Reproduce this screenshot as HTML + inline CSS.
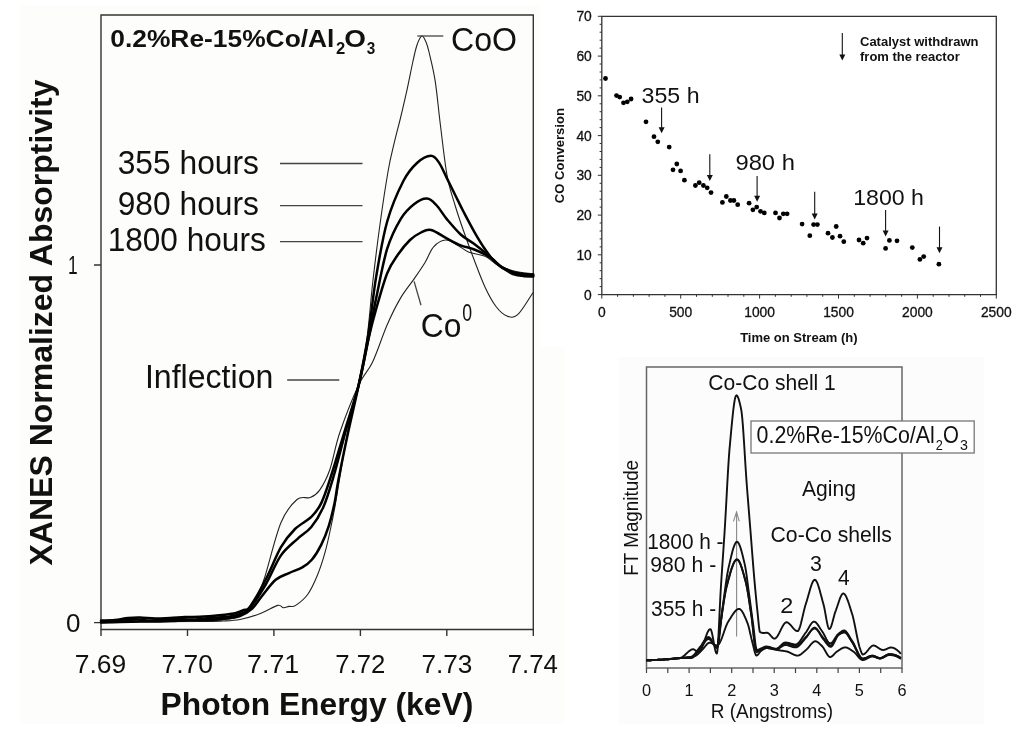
<!DOCTYPE html><html><head><meta charset="utf-8"><style>html,body{margin:0;padding:0;background:#fff;width:1024px;height:736px;overflow:hidden}svg{display:block;will-change:transform}text{font-family:"Liberation Sans",sans-serif}</style></head><body>
<svg width="1024" height="736" viewBox="0 0 1024 736">
<rect x="20" y="5" width="545" height="719" fill="#fdfdfb"/>
<rect x="540" y="0" width="484" height="347" fill="#fff"/>
<rect x="619" y="357" width="364.75" height="366.75" fill="#fcfcfc"/>
<g fill="none" stroke="#333" stroke-width="1.4">
<path d="M101,15 H533.3 V629.5 H101 Z"/>
<path d="M94,622.6 H101 M94,265 H101"/>
<path d="M101.0,629.5 V636"/>
<path d="M187.5,629.5 V636"/>
<path d="M273.9,629.5 V636"/>
<path d="M360.4,629.5 V636"/>
<path d="M446.8,629.5 V636"/>
<path d="M533.3,629.5 V636"/>
</g>
<g fill="none" stroke-linejoin="round" stroke-linecap="round">
<path d="M101.0,622.0 C117.5,621.8 179.3,621.4 200.0,621.0 C220.7,620.6 218.3,620.3 225.0,619.5 C231.7,618.7 235.8,617.8 240.0,616.0 C244.2,614.2 247.2,612.3 250.0,609.0 C252.8,605.7 254.6,601.2 257.0,596.0 C259.4,590.8 260.5,590.2 264.5,578.0 C268.5,565.8 275.4,536.1 280.8,523.0 C286.2,509.9 292.1,503.8 297.0,499.5 C301.9,495.2 306.6,499.0 310.3,497.5 C314.1,496.0 316.3,495.0 319.5,490.4 C322.7,485.8 326.3,479.7 329.7,470.0 C333.1,460.3 335.1,446.2 340.0,432.0 C344.9,417.8 353.4,396.5 358.8,384.8 C364.2,373.1 367.9,372.1 372.6,362.0 C377.4,351.9 382.6,335.2 387.3,324.5 C392.0,313.8 396.3,305.2 400.8,297.6 C405.3,290.0 410.2,284.5 414.3,278.6 C418.4,272.7 422.0,267.6 425.2,262.3 C428.4,257.0 430.2,250.5 433.6,246.8 C437.0,243.1 441.7,240.2 445.8,240.0 C449.9,239.8 454.1,243.4 458.0,245.4 C461.9,247.4 464.4,250.4 468.9,252.2 C473.4,254.0 480.2,254.0 485.2,256.3 C490.2,258.6 493.7,263.3 498.7,265.8 C503.7,268.3 509.4,269.9 515.0,271.2 C520.6,272.5 529.5,273.4 532.4,273.9" stroke="#222" stroke-width="1.1"/>
<path d="M101.0,622.0 C117.5,621.9 179.7,621.7 200.0,621.5 C220.3,621.3 216.3,621.3 223.0,621.0 C229.7,620.7 233.8,620.7 240.0,619.5 C246.2,618.3 254.1,616.0 260.4,613.6 C266.7,611.2 273.8,606.4 277.6,605.4 C281.4,604.4 281.4,607.5 283.3,607.7 C285.2,607.9 286.9,606.8 289.0,606.4 C291.1,606.0 292.5,607.5 295.7,605.4 C298.9,603.3 304.4,599.1 308.0,594.0 C311.6,588.9 314.6,582.0 317.5,575.0 C320.4,568.0 322.9,560.1 325.1,552.2 C327.3,544.3 329.1,535.7 330.8,527.5 C332.6,519.3 334.2,510.7 335.6,502.8 C337.0,494.9 337.2,493.0 339.4,480.0 C341.6,467.0 345.8,441.2 349.0,425.0 C352.2,408.8 355.7,397.2 358.7,383.0 C361.7,368.8 364.4,357.2 366.8,340.0 C369.2,322.8 370.7,299.8 373.0,280.0 C375.3,260.2 377.8,239.8 380.4,221.5 C382.9,203.2 386.0,183.2 388.3,170.0 C390.6,156.8 392.4,150.9 394.4,142.2 C396.4,133.5 398.4,126.5 400.5,118.0 C402.6,109.5 404.6,100.6 406.7,91.3 C408.8,82.0 411.1,69.7 412.8,62.0 C414.5,54.3 415.5,49.3 417.0,45.0 C418.5,40.7 420.4,36.5 421.9,36.0 C423.4,35.5 424.8,39.3 426.0,42.0 C427.2,44.7 427.5,45.5 429.0,52.0 C430.5,58.5 433.3,68.9 435.2,81.1 C437.1,93.3 438.4,109.2 440.4,125.0 C442.4,140.8 444.7,162.7 447.2,176.2 C449.7,189.7 452.6,196.9 455.3,206.0 C458.0,215.1 460.2,221.4 463.4,230.5 C466.6,239.6 470.7,250.8 474.3,260.3 C477.9,269.8 481.6,279.8 485.2,287.5 C488.8,295.2 492.4,301.8 496.0,306.5 C499.6,311.2 503.3,314.6 506.9,316.0 C510.5,317.4 513.4,318.4 517.7,314.6 C522.0,310.8 530.2,296.6 532.7,293.0" stroke="#222" stroke-width="1.1"/>
<path d="M101.0,620.5 C103.3,620.4 110.5,620.4 115.0,620.0 C119.5,619.6 123.8,618.4 128.0,618.0 C132.2,617.6 135.5,617.4 140.0,617.5 C144.5,617.6 150.0,618.4 155.0,618.5 C160.0,618.6 165.0,618.2 170.0,618.0 C175.0,617.8 180.0,617.2 185.0,617.0 C190.0,616.8 195.5,617.0 200.0,616.8 C204.5,616.6 207.8,616.3 212.0,616.0 C216.2,615.7 221.0,615.3 225.0,614.8 C229.0,614.3 232.8,613.8 236.0,613.0 C239.2,612.2 241.6,611.1 244.0,610.0 C246.4,608.9 246.4,611.8 250.2,606.5 C253.9,601.2 261.4,587.9 266.5,578.0 C271.6,568.1 276.1,555.6 280.8,547.4 C285.6,539.2 289.9,534.1 295.0,529.0 C300.1,523.9 306.9,521.3 311.3,516.9 C315.7,512.5 318.1,509.8 321.5,502.6 C324.9,495.5 327.8,486.1 331.7,474.0 C335.6,461.9 340.5,444.8 345.0,430.0 C349.5,415.2 354.8,400.0 358.7,385.0 C362.6,370.0 365.3,352.8 368.2,340.0 C371.1,327.2 373.1,319.6 376.3,308.5 C379.5,297.4 383.6,282.2 387.2,273.2 C390.8,264.2 394.2,260.0 398.0,254.5 C401.8,249.0 406.2,243.7 410.0,240.0 C413.8,236.3 417.5,234.2 421.0,232.5 C424.5,230.8 426.6,229.0 431.0,230.0 C435.4,231.0 442.2,236.0 447.2,238.6 C452.1,241.2 456.2,243.6 460.7,245.4 C465.2,247.2 469.3,247.5 474.3,249.5 C479.3,251.5 486.1,254.7 490.6,257.6 C495.1,260.5 497.8,264.4 501.5,267.1 C505.2,269.8 509.3,272.5 513.0,274.0 C516.7,275.5 520.2,275.8 523.6,276.0 C527.0,276.2 531.7,275.6 533.3,275.5" stroke="#000" stroke-width="2.5"/>
<path d="M101.0,622.0 C102.8,621.9 108.0,621.8 112.0,621.5 C116.0,621.2 120.7,620.3 125.0,620.0 C129.3,619.7 133.8,619.4 138.0,619.5 C142.2,619.6 145.5,620.5 150.0,620.5 C154.5,620.5 160.3,620.0 165.0,619.8 C169.7,619.5 173.5,619.0 178.0,619.0 C182.5,619.0 187.5,619.6 192.0,619.5 C196.5,619.4 200.7,618.8 205.0,618.5 C209.3,618.2 213.8,617.8 218.0,617.5 C222.2,617.2 226.0,617.2 230.0,616.5 C234.0,615.8 238.7,614.9 242.0,613.5 C245.3,612.1 246.0,612.9 250.0,608.0 C254.0,603.1 260.9,592.7 266.0,584.0 C271.1,575.3 275.6,563.1 280.8,555.6 C286.0,548.1 291.9,544.1 297.0,539.3 C302.1,534.5 306.9,532.4 311.3,527.0 C315.7,521.6 319.8,515.2 323.5,506.7 C327.2,498.2 329.9,488.8 333.7,476.0 C337.4,463.2 341.8,445.2 346.0,430.0 C350.2,414.8 355.0,400.0 358.7,385.0 C362.4,370.0 365.3,354.6 368.2,340.0 C371.1,325.4 373.1,312.8 376.3,297.6 C379.5,282.4 383.1,261.8 387.2,248.7 C391.3,235.6 396.3,226.3 400.8,218.8 C405.3,211.3 409.9,207.3 414.3,203.9 C418.7,200.5 423.3,198.3 427.0,198.5 C430.7,198.7 432.9,201.5 436.3,205.0 C439.7,208.5 443.1,214.7 447.2,219.6 C451.3,224.5 456.2,230.4 460.7,234.5 C465.2,238.6 469.8,240.6 474.3,244.0 C478.8,247.4 483.4,251.1 487.9,254.9 C492.4,258.8 497.0,264.1 501.5,267.1 C506.0,270.1 511.2,271.5 515.0,273.0 C518.8,274.5 521.0,275.4 524.0,276.0 C527.0,276.6 531.8,276.4 533.3,276.5" stroke="#000" stroke-width="2.5"/>
<path d="M101.0,622.5 C104.2,622.4 113.5,622.2 120.0,622.0 C126.5,621.8 133.3,621.6 140.0,621.5 C146.7,621.4 154.2,621.6 160.0,621.5 C165.8,621.4 170.0,621.2 175.0,621.0 C180.0,620.8 185.0,620.1 190.0,620.0 C195.0,619.9 199.7,620.5 205.0,620.3 C210.3,620.1 216.2,619.7 222.0,619.0 C227.8,618.3 235.0,617.8 240.0,616.0 C245.0,614.2 248.5,611.8 252.2,608.5 C255.9,605.2 258.1,600.8 262.0,596.0 C265.9,591.2 271.2,583.6 275.7,579.8 C280.2,576.0 284.6,575.2 289.0,573.1 C293.4,571.0 298.5,569.6 302.3,567.4 C306.1,565.2 308.6,563.6 311.8,559.8 C315.0,556.0 318.5,550.3 321.3,544.6 C324.1,538.9 326.7,532.6 328.9,525.6 C331.1,518.6 333.0,510.4 334.6,502.8 C336.2,495.2 336.2,491.6 338.4,480.0 C340.6,468.4 344.6,448.8 348.0,433.0 C351.4,417.2 355.3,401.3 358.7,385.0 C362.1,368.7 365.3,353.2 368.2,335.0 C371.1,316.8 373.1,294.8 376.3,275.9 C379.5,257.0 382.7,237.3 387.2,221.5 C391.7,205.7 398.5,190.6 403.5,180.8 C408.5,171.1 412.4,167.2 417.0,163.0 C421.6,158.8 427.2,155.9 430.9,155.8 C434.6,155.7 436.3,158.8 439.0,162.6 C441.7,166.4 444.5,173.5 447.2,178.9 C449.9,184.3 452.6,189.8 455.3,195.2 C458.0,200.6 460.2,205.4 463.4,211.5 C466.6,217.6 470.7,225.5 474.3,231.8 C477.9,238.1 481.6,244.3 485.2,249.5 C488.8,254.7 491.9,259.4 496.0,263.0 C500.1,266.6 505.1,269.4 509.6,271.2 C514.1,273.0 519.2,273.3 523.2,273.9 C527.2,274.4 531.6,274.4 533.3,274.5" stroke="#000" stroke-width="2.5"/>
</g>
<g stroke="#444" stroke-width="1.3" fill="none">
<path d="M417.3,36 H443.3"/>
<path d="M280,163.5 H362.5 M280,205.6 H362.5 M280,241.7 H362.5"/>
<path d="M287.2,380 H339.3"/>
<path d="M414.1,281.4 L421,305.3"/>
</g>
<text transform="translate(110.30,47.1) scale(1.0765,1.0)" font-size="24.5" font-weight="bold" fill="#111">0.2%Re-15%Co/Al</text>
<text transform="translate(335.90,54.4) scale(0.9778,1.0)" font-size="17" font-weight="bold" fill="#111">2</text>
<text transform="translate(344.36,47.1) scale(1.1389,1.0)" font-size="24.5" font-weight="bold" fill="#111">O</text>
<text transform="translate(366.70,54.4) scale(0.9000,1.0)" font-size="17" font-weight="bold" fill="#111">3</text>
<text transform="translate(451.02,51.2) scale(0.9781,1.0)" font-size="32.8" font-weight="normal" fill="#111">CoO</text>
<text transform="translate(117.63,173.5) scale(0.9690,1.0)" font-size="32.8" font-weight="normal" fill="#111">355 hours</text>
<text transform="translate(117.63,215.3) scale(0.9690,1.0)" font-size="32.8" font-weight="normal" fill="#111">980 hours</text>
<text transform="translate(107.67,250.8) scale(0.9634,1.0)" font-size="32.8" font-weight="normal" fill="#111">1800 hours</text>
<text transform="translate(144.91,387.9) scale(0.9936,1.0)" font-size="32.3" font-weight="normal" fill="#111">Inflection</text>
<text transform="translate(420.72,336.8) scale(0.9779,1.0)" font-size="32.5" font-weight="normal" fill="#111">Co</text>
<text transform="translate(462.20,321.1) scale(0.7538,1.0)" font-size="23.5" font-weight="normal" fill="#111">0</text>
<text transform="translate(66.00,632) scale(1.0000,1.0)" font-size="26" font-weight="normal" fill="#111">0</text>
<text transform="translate(68.03,274) scale(0.6692,1.0)" font-size="26" font-weight="normal" fill="#111">1</text>
<text transform="translate(74.78,672.8) scale(1.0174,1.0)" font-size="26" font-weight="normal" fill="#111">7.69</text>
<text transform="translate(161.44,672.8) scale(1.0174,1.0)" font-size="26" font-weight="normal" fill="#111">7.70</text>
<text transform="translate(247.07,672.8) scale(1.0296,1.0)" font-size="26" font-weight="normal" fill="#111">7.71</text>
<text transform="translate(335.21,672.8) scale(0.9910,1.0)" font-size="26" font-weight="normal" fill="#111">7.72</text>
<text transform="translate(421.39,672.8) scale(1.0073,1.0)" font-size="26" font-weight="normal" fill="#111">7.73</text>
<text transform="translate(507.71,672.8) scale(0.9930,1.0)" font-size="26" font-weight="normal" fill="#111">7.74</text>
<text transform="translate(51.5,565.50) rotate(-90) scale(1.0002,1)" font-size="32" font-weight="bold" fill="#111">XANES Normalized Absorptivity</text>
<text transform="translate(160.61,714.8) scale(0.9938,1.0)" font-size="32" font-weight="bold" fill="#111">Photon Energy (keV)</text>
<g fill="none" stroke="#333" stroke-width="1.3">
<path d="M601.8,16.3 H996.3 V294.6 H601.8 Z"/>
<path d="M597.8,294.6H601.8M599.6,286.6H601.8M599.6,278.7H601.8M599.6,270.7H601.8M599.6,262.8H601.8M597.8,254.8H601.8M599.6,246.9H601.8M599.6,238.9H601.8M599.6,231.0H601.8M599.6,223.0H601.8M597.8,215.1H601.8M599.6,207.1H601.8M599.6,199.2H601.8M599.6,191.2H601.8M599.6,183.3H601.8M597.8,175.3H601.8M599.6,167.4H601.8M599.6,159.4H601.8M599.6,151.5H601.8M599.6,143.5H601.8M597.8,135.6H601.8M599.6,127.6H601.8M599.6,119.7H601.8M599.6,111.7H601.8M599.6,103.8H601.8M597.8,95.8H601.8M599.6,87.9H601.8M599.6,79.9H601.8M599.6,72.0H601.8M599.6,64.0H601.8M597.8,56.1H601.8M599.6,48.1H601.8M599.6,40.2H601.8M599.6,32.2H601.8M599.6,24.3H601.8M597.8,16.3H601.8" stroke-width="1"/>
<path d="M601.8,294.6V298.6M617.6,294.6V296.8M633.4,294.6V296.8M649.1,294.6V296.8M664.9,294.6V296.8M680.7,294.6V298.6M696.5,294.6V296.8M712.3,294.6V296.8M728.0,294.6V296.8M743.8,294.6V296.8M759.6,294.6V298.6M775.4,294.6V296.8M791.2,294.6V296.8M806.9,294.6V296.8M822.7,294.6V296.8M838.5,294.6V298.6M854.3,294.6V296.8M870.1,294.6V296.8M885.8,294.6V296.8M901.6,294.6V296.8M917.4,294.6V298.6M933.2,294.6V296.8M949.0,294.6V296.8M964.7,294.6V296.8M980.5,294.6V296.8M996.3,294.6V298.6" stroke-width="1"/>
</g>
<g fill="#000">
<circle cx="605.5" cy="78.5" r="2.4"/>
<circle cx="616.5" cy="95.6" r="2.4"/>
<circle cx="619.7" cy="97.1" r="2.4"/>
<circle cx="623.5" cy="102.8" r="2.4"/>
<circle cx="627.3" cy="101.8" r="2.4"/>
<circle cx="631.1" cy="99" r="2.4"/>
<circle cx="646" cy="121.8" r="2.4"/>
<circle cx="654" cy="136.7" r="2.4"/>
<circle cx="657.8" cy="141.8" r="2.4"/>
<circle cx="669.2" cy="147.1" r="2.4"/>
<circle cx="676.8" cy="164" r="2.4"/>
<circle cx="673" cy="169.8" r="2.4"/>
<circle cx="680.6" cy="170.9" r="2.4"/>
<circle cx="684.4" cy="180.2" r="2.4"/>
<circle cx="695.4" cy="185.5" r="2.4"/>
<circle cx="699.2" cy="182.7" r="2.4"/>
<circle cx="703.4" cy="185.5" r="2.4"/>
<circle cx="707.2" cy="187.8" r="2.4"/>
<circle cx="711" cy="192.6" r="2.4"/>
<circle cx="726.3" cy="196.5" r="2.4"/>
<circle cx="722.4" cy="202.4" r="2.4"/>
<circle cx="730.4" cy="200.5" r="2.4"/>
<circle cx="733.9" cy="200.5" r="2.4"/>
<circle cx="737.7" cy="204.7" r="2.4"/>
<circle cx="749.1" cy="203.2" r="2.4"/>
<circle cx="756.7" cy="207.1" r="2.4"/>
<circle cx="752.9" cy="209.8" r="2.4"/>
<circle cx="760.5" cy="211.3" r="2.4"/>
<circle cx="764.3" cy="212.9" r="2.4"/>
<circle cx="775.5" cy="212.9" r="2.4"/>
<circle cx="779.5" cy="218" r="2.4"/>
<circle cx="783.3" cy="213.8" r="2.4"/>
<circle cx="787.1" cy="213.8" r="2.4"/>
<circle cx="802.1" cy="224.1" r="2.4"/>
<circle cx="809.8" cy="235.7" r="2.4"/>
<circle cx="813.6" cy="224.6" r="2.4"/>
<circle cx="817.4" cy="224.6" r="2.4"/>
<circle cx="828" cy="233.2" r="2.4"/>
<circle cx="832.4" cy="237.5" r="2.4"/>
<circle cx="836.2" cy="226.5" r="2.4"/>
<circle cx="840" cy="236.2" r="2.4"/>
<circle cx="843.8" cy="241.7" r="2.4"/>
<circle cx="859" cy="240" r="2.4"/>
<circle cx="863.2" cy="243.2" r="2.4"/>
<circle cx="867" cy="238.1" r="2.4"/>
<circle cx="885.6" cy="248.4" r="2.4"/>
<circle cx="889.4" cy="240.4" r="2.4"/>
<circle cx="897" cy="240.8" r="2.4"/>
<circle cx="912.3" cy="247.6" r="2.4"/>
<circle cx="919.9" cy="259.4" r="2.4"/>
<circle cx="923.7" cy="256.6" r="2.4"/>
<circle cx="938.9" cy="264.2" r="2.4"/>
</g>
<g stroke="#111" stroke-width="1.1" fill="#111">
<path d="M661.6,107.6 V129.2" fill="none"/>
<path d="M658.6,127.19999999999999 L664.6,127.19999999999999 L661.6,133.2 Z" stroke="none"/>
<path d="M709.8,154.3 V177" fill="none"/>
<path d="M706.8,175 L712.8,175 L709.8,181 Z" stroke="none"/>
<path d="M757.1,176.1 V197.8" fill="none"/>
<path d="M754.1,195.8 L760.1,195.8 L757.1,201.8 Z" stroke="none"/>
<path d="M814.7,191.7 V215.5" fill="none"/>
<path d="M811.7,213.5 L817.7,213.5 L814.7,219.5 Z" stroke="none"/>
<path d="M885.6,209.9 V232.6" fill="none"/>
<path d="M882.6,230.6 L888.6,230.6 L885.6,236.6 Z" stroke="none"/>
<path d="M939.5,226.5 V249.3" fill="none"/>
<path d="M936.5,247.3 L942.5,247.3 L939.5,253.3 Z" stroke="none"/>
<path d="M842.3,33 V56.6" fill="none"/>
<path d="M839.3,54.6 L845.3,54.6 L842.3,60.6 Z" stroke="none"/>
</g>
<g fill="#111" font-size="13">
<text x="591.8" y="299.5" text-anchor="end" font-size="13.8" stroke="#111" stroke-width="0.3">0</text>
<text x="591.8" y="259.7" text-anchor="end" font-size="13.8" stroke="#111" stroke-width="0.3">10</text>
<text x="591.8" y="220.0" text-anchor="end" font-size="13.8" stroke="#111" stroke-width="0.3">20</text>
<text x="591.8" y="180.2" text-anchor="end" font-size="13.8" stroke="#111" stroke-width="0.3">30</text>
<text x="591.8" y="140.5" text-anchor="end" font-size="13.8" stroke="#111" stroke-width="0.3">40</text>
<text x="591.8" y="100.7" text-anchor="end" font-size="13.8" stroke="#111" stroke-width="0.3">50</text>
<text x="591.8" y="61.0" text-anchor="end" font-size="13.8" stroke="#111" stroke-width="0.3">60</text>
<text x="591.8" y="21.2" text-anchor="end" font-size="13.8" stroke="#111" stroke-width="0.3">70</text>
<text x="601.8" y="317.2" text-anchor="middle" font-size="13.8" stroke="#111" stroke-width="0.3">0</text>
<text x="680.7" y="317.2" text-anchor="middle" font-size="13.8" stroke="#111" stroke-width="0.3">500</text>
<text x="759.6" y="317.2" text-anchor="middle" font-size="13.8" stroke="#111" stroke-width="0.3">1000</text>
<text x="838.5" y="317.2" text-anchor="middle" font-size="13.8" stroke="#111" stroke-width="0.3">1500</text>
<text x="917.4" y="317.2" text-anchor="middle" font-size="13.8" stroke="#111" stroke-width="0.3">2000</text>
<text x="996.3" y="317.2" text-anchor="middle" font-size="13.8" stroke="#111" stroke-width="0.3">2500</text>
</g>
<text transform="translate(564.4,203.30) rotate(-90) scale(0.9849,1)" font-size="13.3" font-weight="bold" fill="#111">CO Conversion</text>
<g fill="#111" font-size="13">
<text x="798.9" y="342" font-weight="bold" text-anchor="middle">Time on Stream (h)</text>
<text x="860" y="46" font-weight="bold">Catalyst withdrawn</text>
<text x="860" y="61.1" font-weight="bold">from the reactor</text>
</g>
<text transform="translate(641.60,103.4) scale(1.0535,1.0)" font-size="22" font-weight="normal" fill="#111">355 h</text>
<text transform="translate(735.42,170.4) scale(1.0811,1.0)" font-size="22" font-weight="normal" fill="#111">980 h</text>
<text transform="translate(853.15,205.2) scale(1.0530,1.0)" font-size="22" font-weight="normal" fill="#111">1800 h</text>
<g fill="none" stroke="#666" stroke-width="1.5">
<path d="M646.5,367 H902 V668 H646.5 Z"/>
<path d="M646.5,668V673M667.8,668V673M689.1,668V673M710.4,668V673M731.7,668V673M753.0,668V673M774.2,668V673M795.5,668V673M816.8,668V673M838.1,668V673M859.4,668V673M880.7,668V673M902.0,668V673" stroke="#444" stroke-width="1.2"/>
</g>
<g stroke="#888" stroke-width="1.1" fill="none"><path d="M736.6,636.4 V512"/><path d="M733.5,521.3 L736.5,512 L739.3,521.3"/></g>
<g fill="none" stroke="#111" stroke-width="1.9" stroke-linejoin="round">
<path d="M646.4,660.3 L646.9,660.3 647.4,660.3 647.9,660.3 648.4,660.3 648.9,660.2 649.4,660.2 649.9,660.2 650.4,660.2 650.9,660.2 651.4,660.2 651.9,660.1 652.4,660.1 652.9,660.1 653.4,660.1 653.9,660.1 654.4,660.0 654.9,660.0 655.4,660.0 655.9,660.0 656.4,659.9 656.9,659.9 657.4,659.9 657.9,659.9 658.4,659.8 658.9,659.8 659.4,659.8 659.9,659.7 660.4,659.7 660.9,659.7 661.4,659.7 661.9,659.6 662.4,659.6 662.9,659.6 663.4,659.5 663.9,659.5 664.4,659.5 664.9,659.4 665.4,659.4 665.9,659.4 666.4,659.4 666.9,659.3 667.4,659.3 667.9,659.3 668.4,659.2 668.9,659.2 669.4,659.2 669.9,659.1 670.4,659.1 670.9,659.1 671.4,659.0 671.9,659.0 672.4,658.9 672.9,658.9 673.4,658.8 673.9,658.8 674.4,658.7 674.9,658.7 675.4,658.6 675.9,658.6 676.4,658.5 676.9,658.5 677.4,658.4 677.9,658.3 678.4,658.3 678.9,658.2 679.4,658.1 679.9,658.0 680.4,657.9 680.9,657.8 681.4,657.5 681.9,657.3 682.4,657.0 682.9,656.6 683.4,656.3 683.9,655.8 684.4,655.4 684.9,655.0 685.4,654.5 685.9,654.0 686.4,653.6 686.9,653.1 687.4,652.6 687.9,652.2 688.4,651.7 688.9,651.3 689.4,650.9 689.9,650.6 690.4,650.2 690.9,649.9 691.4,649.7 691.9,649.5 692.4,649.4 692.9,649.3 693.4,649.3 693.9,649.4 694.4,649.7 694.9,650.0 695.4,650.4 695.9,650.8 696.4,651.2 696.9,651.5 697.4,651.9 697.9,652.1 698.4,652.3 698.9,652.3 699.4,652.1 699.9,651.6 700.4,651.0 700.9,650.1 701.4,649.1 701.9,648.0 702.4,646.7 702.9,645.4 703.4,644.0 703.9,642.5 704.4,641.0 704.9,639.5 705.4,638.0 705.9,636.6 706.4,635.2 706.9,633.9 707.4,632.7 707.9,631.7 708.4,630.8 708.9,630.0 709.4,629.5 709.9,629.2 710.4,629.1 710.9,629.7 711.4,631.0 711.9,632.8 712.4,635.1 712.9,637.7 713.4,640.5 713.9,643.3 714.4,646.0 714.9,648.5 715.4,650.7 715.9,652.3 716.4,653.3 716.9,653.5 717.4,650.9 717.9,645.2 718.4,637.0 718.9,627.3 719.4,616.6 719.9,605.9 720.4,595.7 720.9,587.0 721.4,579.3 721.9,571.8 722.4,564.4 722.9,557.1 723.4,549.7 723.9,542.3 724.4,534.7 724.9,526.8 725.4,518.3 725.9,509.4 726.4,500.2 726.9,490.9 727.4,481.7 727.9,472.9 728.4,464.6 728.9,457.1 729.4,450.4 729.9,444.8 730.4,439.4 730.9,433.9 731.4,428.5 731.9,423.3 732.4,418.3 732.9,413.5 733.4,409.2 733.9,405.3 734.4,401.9 734.9,399.1 735.4,397.0 735.9,395.8 736.4,395.3 736.9,395.5 737.4,396.1 737.9,397.1 738.4,398.3 738.9,399.9 739.4,401.7 739.9,403.7 740.4,405.8 740.9,408.1 741.4,410.7 741.9,414.6 742.4,419.7 742.9,425.9 743.4,432.8 743.9,440.4 744.4,448.3 744.9,456.4 745.4,464.5 745.9,472.3 746.4,479.6 746.9,486.3 747.4,492.7 747.9,498.9 748.4,505.2 748.9,511.4 749.4,517.6 749.9,523.8 750.4,530.0 750.9,536.3 751.4,542.7 751.9,549.2 752.4,555.6 752.9,561.9 753.4,568.1 753.9,574.0 754.4,579.8 754.9,585.4 755.4,590.9 755.9,596.2 756.4,601.4 756.9,606.4 757.4,611.1 757.9,615.9 758.4,621.1 758.9,626.0 759.4,629.9 759.9,631.9 760.4,632.2 760.9,632.5 761.4,632.6 761.9,632.8 762.4,632.9 762.9,633.0 763.4,633.0 763.9,633.0 764.4,633.0 764.9,632.9 765.4,632.9 765.9,632.8 766.4,632.8 766.9,632.8 767.4,632.8 767.9,633.0 768.4,633.3 768.9,633.7 769.4,634.2 769.9,634.7 770.4,635.3 770.9,635.9 771.4,636.4 771.9,637.0 772.4,637.5 772.9,637.9 773.4,638.3 773.9,638.5 774.4,638.6 774.9,638.5 775.4,638.3 775.9,638.0 776.4,637.5 776.9,636.9 777.4,636.2 777.9,635.4 778.4,634.6 778.9,633.6 779.4,632.7 779.9,631.7 780.4,630.7 780.9,629.6 781.4,628.6 781.9,627.6 782.4,626.7 782.9,625.8 783.4,625.0 783.9,624.3 784.4,623.6 784.9,623.1 785.4,622.7 785.9,622.4 786.4,622.3 786.9,622.3 787.4,622.5 787.9,622.7 788.4,623.0 788.9,623.4 789.4,623.8 789.9,624.3 790.4,624.8 790.9,625.4 791.4,626.0 791.9,626.6 792.4,627.2 792.9,627.8 793.4,628.3 793.9,628.9 794.4,629.4 794.9,629.9 795.4,630.3 795.9,630.6 796.4,630.9 796.9,631.0 797.4,631.1 797.9,631.0 798.4,630.5 798.9,629.6 799.4,628.5 799.9,627.1 800.4,625.4 800.9,623.6 801.4,621.6 801.9,619.6 802.4,617.4 802.9,615.2 803.4,613.1 803.9,610.9 804.4,608.9 804.9,607.0 805.4,605.3 805.9,603.7 806.4,602.1 806.9,600.5 807.4,598.8 807.9,597.0 808.4,595.2 808.9,593.4 809.4,591.7 809.9,589.9 810.4,588.3 810.9,586.7 811.4,585.2 811.9,583.8 812.4,582.7 812.9,581.6 813.4,580.8 813.9,580.2 814.4,579.9 814.9,579.8 815.4,580.0 815.9,580.5 816.4,581.2 816.9,582.1 817.4,583.2 817.9,584.5 818.4,586.0 818.9,587.6 819.4,589.2 819.9,591.0 820.4,592.9 820.9,594.7 821.4,596.6 821.9,598.5 822.4,600.4 822.9,602.2 823.4,604.0 823.9,605.9 824.4,608.3 824.9,610.9 825.4,613.7 825.9,616.5 826.4,619.3 826.9,621.9 827.4,624.3 827.9,626.3 828.4,627.8 828.9,628.8 829.4,629.0 829.9,628.7 830.4,628.0 830.9,626.9 831.4,625.6 831.9,624.0 832.4,622.3 832.9,620.4 833.4,618.6 833.9,616.7 834.4,614.8 834.9,613.1 835.4,611.6 835.9,610.3 836.4,608.9 836.9,607.5 837.4,606.0 837.9,604.5 838.4,603.0 838.9,601.5 839.4,600.0 839.9,598.7 840.4,597.4 840.9,596.3 841.4,595.3 841.9,594.5 842.4,593.9 842.9,593.6 843.4,593.5 843.9,593.7 844.4,594.0 844.9,594.6 845.4,595.3 845.9,596.1 846.4,597.2 846.9,598.3 847.4,599.6 847.9,600.9 848.4,602.3 848.9,603.8 849.4,605.3 849.9,606.9 850.4,608.5 850.9,610.1 851.4,611.7 851.9,613.2 852.4,614.8 852.9,616.6 853.4,618.7 853.9,620.9 854.4,623.2 854.9,625.7 855.4,628.2 855.9,630.7 856.4,633.3 856.9,635.8 857.4,638.2 857.9,640.6 858.4,642.8 858.9,644.8 859.4,646.7 859.9,648.2 860.4,649.6 860.9,651.1 861.4,652.4 861.9,653.6 862.4,654.3 862.9,654.5 863.4,654.4 863.9,654.2 864.4,653.9 864.9,653.6 865.4,653.1 865.9,652.6 866.4,652.1 866.9,651.5 867.4,650.9 867.9,650.3 868.4,649.6 868.9,649.0 869.4,648.4 869.9,647.8 870.4,647.3 870.9,646.8 871.4,646.3 871.9,646.0 872.4,645.7 872.9,645.6 873.4,645.5 873.9,645.5 874.4,645.6 874.9,645.8 875.4,646.0 875.9,646.3 876.4,646.5 876.9,646.9 877.4,647.2 877.9,647.5 878.4,647.9 878.9,648.2 879.4,648.6 879.9,648.9 880.4,649.2 880.9,649.4 881.4,649.7 881.9,649.8 882.4,649.9 882.9,650.0 883.4,650.0 883.9,649.9 884.4,649.8 884.9,649.6 885.4,649.5 885.9,649.3 886.4,649.0 886.9,648.8 887.4,648.6 887.9,648.3 888.4,648.1 888.9,647.9 889.4,647.8 889.9,647.6 890.4,647.5 890.9,647.5 891.4,647.5 891.9,647.6 892.4,647.6 892.9,647.8 893.4,647.9 893.9,648.1 894.4,648.3 894.9,648.6 895.4,648.9 895.9,649.2 896.4,649.6 896.9,649.9 897.4,650.3 897.9,650.8 898.4,651.2 898.9,651.7 899.4,652.2 899.9,652.7 900.4,653.3 900.9,653.9"/>
<path d="M646.4,660.3 L646.9,660.3 647.4,660.3 647.9,660.3 648.4,660.2 648.9,660.2 649.4,660.2 649.9,660.2 650.4,660.2 650.9,660.2 651.4,660.1 651.9,660.1 652.4,660.1 652.9,660.1 653.4,660.1 653.9,660.0 654.4,660.0 654.9,660.0 655.4,660.0 655.9,659.9 656.4,659.9 656.9,659.9 657.4,659.9 657.9,659.8 658.4,659.8 658.9,659.8 659.4,659.8 659.9,659.7 660.4,659.7 660.9,659.7 661.4,659.7 661.9,659.6 662.4,659.6 662.9,659.6 663.4,659.5 663.9,659.5 664.4,659.5 664.9,659.4 665.4,659.4 665.9,659.4 666.4,659.3 666.9,659.3 667.4,659.3 667.9,659.2 668.4,659.2 668.9,659.1 669.4,659.1 669.9,659.1 670.4,659.0 670.9,659.0 671.4,658.9 671.9,658.9 672.4,658.8 672.9,658.8 673.4,658.7 673.9,658.7 674.4,658.6 674.9,658.6 675.4,658.5 675.9,658.5 676.4,658.4 676.9,658.4 677.4,658.3 677.9,658.3 678.4,658.3 678.9,658.2 679.4,658.2 679.9,658.1 680.4,658.1 680.9,658.0 681.4,658.0 681.9,657.9 682.4,657.9 682.9,657.8 683.4,657.8 683.9,657.8 684.4,657.7 684.9,657.7 685.4,657.7 685.9,657.6 686.4,657.6 686.9,657.5 687.4,657.5 687.9,657.4 688.4,657.4 688.9,657.3 689.4,657.3 689.9,657.2 690.4,657.1 690.9,657.0 691.4,656.9 691.9,656.7 692.4,656.4 692.9,656.0 693.4,655.5 693.9,655.0 694.4,654.5 694.9,653.9 695.4,653.2 695.9,652.5 696.4,651.8 696.9,651.1 697.4,650.4 697.9,649.7 698.4,649.0 698.9,648.4 699.4,647.7 699.9,647.1 700.4,646.5 700.9,645.9 701.4,645.2 701.9,644.4 702.4,643.6 702.9,642.9 703.4,642.1 703.9,641.3 704.4,640.6 704.9,639.9 705.4,639.2 705.9,638.6 706.4,638.1 706.9,637.7 707.4,637.3 707.9,637.1 708.4,637.0 708.9,637.1 709.4,637.3 709.9,637.8 710.4,638.4 710.9,639.1 711.4,640.0 711.9,640.9 712.4,641.8 712.9,642.8 713.4,643.8 713.9,644.7 714.4,645.5 714.9,646.3 715.4,647.0 715.9,647.5 716.4,647.8 716.9,648.0 717.4,647.6 717.9,646.1 718.4,643.6 718.9,640.3 719.4,636.4 719.9,632.0 720.4,627.3 720.9,622.5 721.4,617.8 721.9,613.2 722.4,609.0 722.9,605.3 723.4,601.7 723.9,598.1 724.4,594.3 724.9,590.6 725.4,586.9 725.9,583.4 726.4,579.9 726.9,576.6 727.4,573.6 727.9,570.9 728.4,568.4 728.9,566.3 729.4,564.1 729.9,561.9 730.4,559.7 730.9,557.6 731.4,555.5 731.9,553.5 732.4,551.6 732.9,549.8 733.4,548.1 733.9,546.6 734.4,545.3 734.9,544.1 735.4,543.2 735.9,542.5 736.4,542.0 736.9,541.8 737.4,541.9 737.9,542.3 738.4,542.9 738.9,543.7 739.4,544.8 739.9,546.1 740.4,547.5 740.9,549.1 741.4,550.8 741.9,552.7 742.4,554.6 742.9,556.6 743.4,558.7 743.9,560.8 744.4,562.9 744.9,565.1 745.4,567.6 745.9,570.6 746.4,573.9 746.9,577.5 747.4,581.3 747.9,585.1 748.4,589.0 748.9,592.8 749.4,596.5 749.9,600.2 750.4,603.9 750.9,607.7 751.4,611.5 751.9,615.4 752.4,619.1 752.9,622.8 753.4,626.5 753.9,630.7 754.4,635.2 754.9,639.7 755.4,643.8 755.9,647.3 756.4,649.8 756.9,651.0 757.4,650.9 757.9,650.8 758.4,650.4 758.9,650.1 759.4,649.6 759.9,649.2 760.4,648.9 760.9,648.5 761.4,648.3 761.9,648.1 762.4,647.8 762.9,647.6 763.4,647.3 763.9,647.1 764.4,646.9 764.9,646.8 765.4,646.6 765.9,646.5 766.4,646.5 766.9,646.5 767.4,646.6 767.9,646.6 768.4,646.7 768.9,646.9 769.4,647.0 769.9,647.2 770.4,647.3 770.9,647.5 771.4,647.7 771.9,647.9 772.4,648.1 772.9,648.2 773.4,648.4 773.9,648.5 774.4,648.6 774.9,648.7 775.4,648.8 775.9,648.8 776.4,648.8 776.9,648.6 777.4,648.4 777.9,648.1 778.4,647.8 778.9,647.4 779.4,646.9 779.9,646.4 780.4,646.0 780.9,645.4 781.4,645.0 781.9,644.5 782.4,644.0 782.9,643.6 783.4,643.2 783.9,642.9 784.4,642.7 784.9,642.6 785.4,642.5 785.9,642.5 786.4,642.6 786.9,642.6 787.4,642.7 787.9,642.8 788.4,642.9 788.9,643.0 789.4,643.2 789.9,643.3 790.4,643.5 790.9,643.6 791.4,643.8 791.9,643.9 792.4,644.0 792.9,644.2 793.4,644.3 793.9,644.4 794.4,644.4 794.9,644.5 795.4,644.5 795.9,644.5 796.4,644.4 796.9,644.1 797.4,643.8 797.9,643.4 798.4,643.0 798.9,642.4 799.4,641.9 799.9,641.2 800.4,640.5 800.9,639.8 801.4,639.1 801.9,638.3 802.4,637.5 802.9,636.7 803.4,635.9 803.9,635.2 804.4,634.4 804.9,633.7 805.4,633.0 805.9,632.4 806.4,631.7 806.9,630.9 807.4,630.1 807.9,629.3 808.4,628.4 808.9,627.5 809.4,626.6 809.9,625.8 810.4,624.9 810.9,624.2 811.4,623.5 811.9,622.9 812.4,622.4 812.9,622.0 813.4,621.7 813.9,621.6 814.4,621.6 814.9,621.8 815.4,622.1 815.9,622.5 816.4,623.0 816.9,623.6 817.4,624.2 817.9,624.9 818.4,625.6 818.9,626.4 819.4,627.2 819.9,628.0 820.4,628.8 820.9,629.5 821.4,630.3 821.9,631.0 822.4,631.7 822.9,632.5 823.4,633.3 823.9,634.3 824.4,635.2 824.9,636.2 825.4,637.2 825.9,638.2 826.4,639.2 826.9,640.1 827.4,640.9 827.9,641.7 828.4,642.3 828.9,642.8 829.4,643.2 829.9,643.4 830.4,643.4 830.9,643.2 831.4,643.0 831.9,642.6 832.4,642.1 832.9,641.5 833.4,640.8 833.9,640.1 834.4,639.3 834.9,638.5 835.4,637.7 835.9,637.0 836.4,636.2 836.9,635.5 837.4,634.9 837.9,634.3 838.4,633.9 838.9,633.5 839.4,633.1 839.9,632.7 840.4,632.3 840.9,631.9 841.4,631.5 841.9,631.2 842.4,630.9 842.9,630.7 843.4,630.6 843.9,630.5 844.4,630.5 844.9,630.7 845.4,631.0 845.9,631.5 846.4,632.0 846.9,632.6 847.4,633.3 847.9,634.0 848.4,634.8 848.9,635.6 849.4,636.5 849.9,637.3 850.4,638.2 850.9,639.0 851.4,639.8 851.9,640.6 852.4,641.3 852.9,642.1 853.4,643.0 853.9,644.0 854.4,645.0 854.9,646.1 855.4,647.2 855.9,648.3 856.4,649.4 856.9,650.5 857.4,651.5 857.9,652.6 858.4,653.6 858.9,654.5 859.4,655.4 859.9,656.2 860.4,656.8 860.9,657.4 861.4,657.9 861.9,658.2 862.4,658.4 862.9,658.5 863.4,658.5 863.9,658.4 864.4,658.3 864.9,658.2 865.4,658.0 865.9,657.8 866.4,657.6 866.9,657.4 867.4,657.2 867.9,656.9 868.4,656.7 868.9,656.5 869.4,656.3 869.9,656.1 870.4,656.0 870.9,655.9 871.4,655.8 871.9,655.7 872.4,655.7 872.9,655.7 873.4,655.8 873.9,656.0 874.4,656.1 874.9,656.3 875.4,656.5 875.9,656.7 876.4,657.0 876.9,657.2 877.4,657.4 877.9,657.6 878.4,657.7 878.9,657.9 879.4,658.0 879.9,658.0 880.4,658.0 880.9,657.9 881.4,657.8 881.9,657.6 882.4,657.4 882.9,657.2 883.4,656.9 883.9,656.6 884.4,656.3 884.9,656.0 885.4,655.7 885.9,655.4 886.4,655.1 886.9,654.9 887.4,654.7 887.9,654.5 888.4,654.3 888.9,654.2 889.4,654.2 889.9,654.2 890.4,654.2 890.9,654.2 891.4,654.3 891.9,654.3 892.4,654.4 892.9,654.5 893.4,654.6 893.9,654.7 894.4,654.8 894.9,654.9 895.4,655.1 895.9,655.3 896.4,655.5 896.9,655.7 897.4,655.9 897.9,656.1 898.4,656.4 898.9,656.6 899.4,656.9 899.9,657.2 900.4,657.6 900.9,657.9"/>
<path d="M646.4,660.3 L646.9,660.3 647.4,660.3 647.9,660.3 648.4,660.2 648.9,660.2 649.4,660.2 649.9,660.2 650.4,660.2 650.9,660.2 651.4,660.1 651.9,660.1 652.4,660.1 652.9,660.1 653.4,660.1 653.9,660.0 654.4,660.0 654.9,660.0 655.4,660.0 655.9,659.9 656.4,659.9 656.9,659.9 657.4,659.9 657.9,659.8 658.4,659.8 658.9,659.8 659.4,659.8 659.9,659.7 660.4,659.7 660.9,659.7 661.4,659.7 661.9,659.6 662.4,659.6 662.9,659.6 663.4,659.5 663.9,659.5 664.4,659.5 664.9,659.4 665.4,659.4 665.9,659.4 666.4,659.3 666.9,659.3 667.4,659.2 667.9,659.2 668.4,659.1 668.9,659.0 669.4,659.0 669.9,658.9 670.4,658.9 670.9,658.8 671.4,658.8 671.9,658.7 672.4,658.6 672.9,658.6 673.4,658.5 673.9,658.5 674.4,658.4 674.9,658.4 675.4,658.3 675.9,658.3 676.4,658.2 676.9,658.2 677.4,658.1 677.9,658.1 678.4,658.1 678.9,658.0 679.4,658.0 679.9,658.0 680.4,658.0 680.9,658.0 681.4,658.0 681.9,658.0 682.4,658.0 682.9,658.0 683.4,658.0 683.9,658.0 684.4,658.0 684.9,658.0 685.4,658.0 685.9,658.0 686.4,658.0 686.9,658.0 687.4,658.0 687.9,658.0 688.4,658.0 688.9,658.0 689.4,658.0 689.9,658.0 690.4,658.0 690.9,658.0 691.4,658.0 691.9,657.9 692.4,657.7 692.9,657.5 693.4,657.1 693.9,656.7 694.4,656.2 694.9,655.6 695.4,655.0 695.9,654.4 696.4,653.7 696.9,653.0 697.4,652.3 697.9,651.7 698.4,651.0 698.9,650.3 699.4,649.7 699.9,649.1 700.4,648.5 700.9,647.9 701.4,647.2 701.9,646.5 702.4,645.7 702.9,644.9 703.4,644.1 703.9,643.4 704.4,642.6 704.9,641.9 705.4,641.2 705.9,640.6 706.4,640.1 706.9,639.7 707.4,639.3 707.9,639.1 708.4,639.0 708.9,639.1 709.4,639.3 709.9,639.6 710.4,640.0 710.9,640.6 711.4,641.2 711.9,641.8 712.4,642.5 712.9,643.2 713.4,643.9 713.9,644.6 714.4,645.2 714.9,645.8 715.4,646.3 715.9,646.6 716.4,646.9 716.9,647.0 717.4,646.5 717.9,644.5 718.4,641.4 718.9,637.6 719.4,633.3 719.9,628.9 720.4,624.8 720.9,621.2 721.4,618.0 721.9,614.7 722.4,611.3 722.9,607.9 723.4,604.6 723.9,601.4 724.4,598.2 724.9,595.3 725.4,592.5 725.9,590.0 726.4,587.8 726.9,585.9 727.4,583.9 727.9,582.0 728.4,580.1 728.9,578.2 729.4,576.4 729.9,574.6 730.4,572.8 730.9,571.1 731.4,569.5 731.9,568.0 732.4,566.6 732.9,565.2 733.4,564.0 733.9,562.9 734.4,561.9 734.9,561.1 735.4,560.5 735.9,560.0 736.4,559.6 736.9,559.5 737.4,559.6 737.9,559.9 738.4,560.3 738.9,561.0 739.4,561.9 739.9,562.9 740.4,564.0 740.9,565.3 741.4,566.8 741.9,568.3 742.4,569.9 742.9,571.5 743.4,573.3 743.9,575.1 744.4,576.9 744.9,578.7 745.4,580.6 745.9,582.5 746.4,584.7 746.9,587.2 747.4,589.9 747.9,592.9 748.4,596.1 748.9,599.3 749.4,602.7 749.9,606.1 750.4,609.5 750.9,612.9 751.4,616.2 751.9,619.9 752.4,624.1 752.9,628.7 753.4,633.4 753.9,638.0 754.4,642.2 754.9,646.0 755.4,649.0 755.9,651.1 756.4,652.0 756.9,652.0 757.4,651.8 757.9,651.7 758.4,651.4 758.9,651.1 759.4,650.8 759.9,650.6 760.4,650.3 760.9,650.0 761.4,649.8 761.9,649.6 762.4,649.4 762.9,649.1 763.4,648.9 763.9,648.7 764.4,648.5 764.9,648.3 765.4,648.1 765.9,648.0 766.4,648.0 766.9,648.0 767.4,648.0 767.9,648.1 768.4,648.2 768.9,648.2 769.4,648.3 769.9,648.4 770.4,648.6 770.9,648.7 771.4,648.8 771.9,648.9 772.4,649.0 772.9,649.1 773.4,649.2 773.9,649.3 774.4,649.4 774.9,649.4 775.4,649.5 775.9,649.5 776.4,649.5 776.9,649.4 777.4,649.2 777.9,649.0 778.4,648.8 778.9,648.5 779.4,648.2 779.9,647.8 780.4,647.5 780.9,647.1 781.4,646.8 781.9,646.4 782.4,646.1 782.9,645.8 783.4,645.5 783.9,645.3 784.4,645.1 784.9,645.0 785.4,645.0 785.9,645.0 786.4,645.1 786.9,645.1 787.4,645.2 787.9,645.4 788.4,645.5 788.9,645.7 789.4,645.8 789.9,646.0 790.4,646.2 790.9,646.3 791.4,646.5 791.9,646.7 792.4,646.8 792.9,647.0 793.4,647.1 793.9,647.2 794.4,647.3 794.9,647.4 795.4,647.4 795.9,647.4 796.4,647.3 796.9,647.1 797.4,646.9 797.9,646.6 798.4,646.2 798.9,645.8 799.4,645.4 799.9,644.9 800.4,644.4 800.9,643.8 801.4,643.2 801.9,642.6 802.4,642.0 802.9,641.4 803.4,640.8 803.9,640.2 804.4,639.6 804.9,639.0 805.4,638.4 805.9,637.9 806.4,637.3 806.9,636.7 807.4,636.0 807.9,635.3 808.4,634.5 808.9,633.7 809.4,632.9 809.9,632.2 810.4,631.4 810.9,630.7 811.4,630.0 811.9,629.4 812.4,628.9 812.9,628.4 813.4,628.1 813.9,627.8 814.4,627.7 814.9,627.7 815.4,627.9 815.9,628.2 816.4,628.6 816.9,629.2 817.4,629.8 817.9,630.5 818.4,631.2 818.9,632.1 819.4,632.9 819.9,633.8 820.4,634.7 820.9,635.5 821.4,636.4 821.9,637.2 822.4,638.0 822.9,638.7 823.4,639.3 823.9,639.9 824.4,640.5 824.9,641.2 825.4,641.9 825.9,642.6 826.4,643.3 826.9,643.9 827.4,644.5 827.9,645.1 828.4,645.6 828.9,646.0 829.4,646.4 829.9,646.6 830.4,646.8 830.9,646.8 831.4,646.6 831.9,646.2 832.4,645.6 832.9,644.9 833.4,644.0 833.9,643.1 834.4,642.1 834.9,641.0 835.4,640.0 835.9,639.0 836.4,638.0 836.9,637.1 837.4,636.3 837.9,635.7 838.4,635.2 838.9,634.8 839.4,634.4 839.9,634.0 840.4,633.6 840.9,633.3 841.4,632.9 841.9,632.6 842.4,632.4 842.9,632.1 843.4,632.0 843.9,631.8 844.4,631.8 844.9,631.9 845.4,632.1 845.9,632.4 846.4,632.9 846.9,633.4 847.4,634.1 847.9,634.8 848.4,635.6 848.9,636.5 849.4,637.4 849.9,638.2 850.4,639.1 850.9,640.0 851.4,640.8 851.9,641.6 852.4,642.3 852.9,643.1 853.4,644.0 853.9,645.0 854.4,646.0 854.9,647.0 855.4,648.1 855.9,649.1 856.4,650.2 856.9,651.3 857.4,652.3 857.9,653.3 858.4,654.3 858.9,655.2 859.4,656.0 859.9,656.7 860.4,657.4 860.9,658.0 861.4,658.4 861.9,658.8 862.4,659.0 862.9,659.0 863.4,659.0 863.9,658.9 864.4,658.8 864.9,658.6 865.4,658.4 865.9,658.3 866.4,658.0 866.9,657.8 867.4,657.6 867.9,657.3 868.4,657.1 868.9,656.9 869.4,656.7 869.9,656.5 870.4,656.3 870.9,656.2 871.4,656.1 871.9,656.0 872.4,656.0 872.9,656.0 873.4,656.1 873.9,656.3 874.4,656.4 874.9,656.6 875.4,656.8 875.9,657.0 876.4,657.3 876.9,657.5 877.4,657.7 877.9,657.9 878.4,658.0 878.9,658.2 879.4,658.3 879.9,658.3 880.4,658.3 880.9,658.2 881.4,658.1 881.9,657.9 882.4,657.7 882.9,657.5 883.4,657.2 883.9,656.9 884.4,656.6 884.9,656.3 885.4,656.0 885.9,655.7 886.4,655.4 886.9,655.2 887.4,655.0 887.9,654.8 888.4,654.6 888.9,654.5 889.4,654.5 889.9,654.5 890.4,654.5 890.9,654.6 891.4,654.6 891.9,654.6 892.4,654.7 892.9,654.8 893.4,654.9 893.9,655.0 894.4,655.2 894.9,655.3 895.4,655.5 895.9,655.6 896.4,655.8 896.9,656.1 897.4,656.3 897.9,656.5 898.4,656.8 898.9,657.1 899.4,657.4 899.9,657.7 900.4,658.1 900.9,658.4"/>
<path d="M646.4,660.3 L646.9,660.3 647.4,660.3 647.9,660.3 648.4,660.2 648.9,660.2 649.4,660.2 649.9,660.2 650.4,660.2 650.9,660.2 651.4,660.1 651.9,660.1 652.4,660.1 652.9,660.1 653.4,660.1 653.9,660.0 654.4,660.0 654.9,660.0 655.4,660.0 655.9,659.9 656.4,659.9 656.9,659.9 657.4,659.9 657.9,659.8 658.4,659.8 658.9,659.8 659.4,659.8 659.9,659.7 660.4,659.7 660.9,659.7 661.4,659.7 661.9,659.6 662.4,659.6 662.9,659.6 663.4,659.5 663.9,659.5 664.4,659.5 664.9,659.4 665.4,659.4 665.9,659.4 666.4,659.3 666.9,659.3 667.4,659.2 667.9,659.2 668.4,659.2 668.9,659.1 669.4,659.1 669.9,659.0 670.4,659.0 670.9,658.9 671.4,658.9 671.9,658.8 672.4,658.8 672.9,658.7 673.4,658.7 673.9,658.6 674.4,658.6 674.9,658.5 675.4,658.5 675.9,658.4 676.4,658.4 676.9,658.3 677.4,658.3 677.9,658.2 678.4,658.2 678.9,658.1 679.4,658.1 679.9,658.1 680.4,658.0 680.9,658.0 681.4,658.0 681.9,658.0 682.4,657.9 682.9,657.9 683.4,657.9 683.9,657.9 684.4,657.9 684.9,657.8 685.4,657.8 685.9,657.8 686.4,657.8 686.9,657.8 687.4,657.7 687.9,657.7 688.4,657.7 688.9,657.7 689.4,657.6 689.9,657.6 690.4,657.6 690.9,657.5 691.4,657.5 691.9,657.4 692.4,657.1 692.9,656.8 693.4,656.4 693.9,656.0 694.4,655.4 694.9,654.8 695.4,654.2 695.9,653.5 696.4,652.9 696.9,652.1 697.4,651.4 697.9,650.7 698.4,650.0 698.9,649.4 699.4,648.7 699.9,648.1 700.4,647.5 700.9,646.9 701.4,646.2 701.9,645.4 702.4,644.7 702.9,643.9 703.4,643.1 703.9,642.3 704.4,641.6 704.9,640.9 705.4,640.2 705.9,639.6 706.4,639.1 706.9,638.7 707.4,638.3 707.9,638.1 708.4,638.0 708.9,638.1 709.4,638.3 709.9,638.7 710.4,639.1 710.9,639.7 711.4,640.4 711.9,641.2 712.4,641.9 712.9,642.7 713.4,643.5 713.9,644.3 714.4,645.0 714.9,645.6 715.4,646.2 715.9,646.6 716.4,646.9 716.9,647.0 717.4,646.4 717.9,644.4 718.4,641.1 718.9,637.1 719.4,632.6 719.9,628.0 720.4,623.7 720.9,620.0 721.4,616.7 721.9,613.4 722.4,610.0 722.9,606.6 723.4,603.3 723.9,600.1 724.4,597.0 724.9,594.1 725.4,591.4 725.9,588.9 726.4,586.8 726.9,584.9 727.4,583.0 727.9,581.2 728.4,579.3 728.9,577.5 729.4,575.7 729.9,574.0 730.4,572.3 730.9,570.7 731.4,569.1 731.9,567.6 732.4,566.3 732.9,565.0 733.4,563.8 733.9,562.7 734.4,561.8 734.9,561.0 735.4,560.4 735.9,559.9 736.4,559.6 736.9,559.5 737.4,559.6 737.9,559.9 738.4,560.4 738.9,561.1 739.4,561.9 739.9,563.0 740.4,564.2 740.9,565.5 741.4,566.9 741.9,568.4 742.4,570.1 742.9,571.7 743.4,573.5 743.9,575.3 744.4,577.1 744.9,578.9 745.4,580.8 745.9,582.6 746.4,584.8 746.9,587.1 747.4,589.7 747.9,592.5 748.4,595.4 748.9,598.5 749.4,601.7 749.9,604.9 750.4,608.1 750.9,611.4 751.4,614.7 751.9,618.5 752.4,622.9 752.9,627.7 753.4,632.6 753.9,637.3 754.4,641.7 754.9,645.4 755.4,648.1 755.9,649.7 756.4,650.0 756.9,650.0 757.4,649.9 757.9,649.8 758.4,649.7 758.9,649.6 759.4,649.4 759.9,649.3 760.4,649.2 760.9,649.0 761.4,648.9 761.9,648.7 762.4,648.5 762.9,648.2 763.4,648.0 763.9,647.7 764.4,647.5 764.9,647.3 765.4,647.2 765.9,647.1 766.4,647.0 766.9,647.0 767.4,647.1 767.9,647.1 768.4,647.2 768.9,647.3 769.4,647.4 769.9,647.6 770.4,647.7 770.9,647.9 771.4,648.0 771.9,648.2 772.4,648.4 772.9,648.5 773.4,648.6 773.9,648.8 774.4,648.8 774.9,648.9 775.4,649.0 775.9,649.0 776.4,649.0 776.9,648.9 777.4,648.7 777.9,648.4 778.4,648.1 778.9,647.8 779.4,647.4 779.9,646.9 780.4,646.5 780.9,646.1 781.4,645.6 781.9,645.2 782.4,644.8 782.9,644.5 783.4,644.1 783.9,643.9 784.4,643.7 784.9,643.5 785.4,643.5 785.9,643.5 786.4,643.6 786.9,643.6 787.4,643.8 787.9,643.9 788.4,644.0 788.9,644.2 789.4,644.4 789.9,644.5 790.4,644.7 790.9,644.9 791.4,645.1 791.9,645.3 792.4,645.4 792.9,645.6 793.4,645.7 793.9,645.8 794.4,645.9 794.9,646.0 795.4,646.0 795.9,646.0 796.4,645.9 796.9,645.7 797.4,645.5 797.9,645.2 798.4,644.9 798.9,644.5 799.4,644.0 799.9,643.5 800.4,643.0 800.9,642.5 801.4,641.9 801.9,641.3 802.4,640.7 802.9,640.1 803.4,639.6 803.9,639.0 804.4,638.4 804.9,637.9 805.4,637.4 805.9,636.9 806.4,636.4 806.9,635.9 807.4,635.3 807.9,634.7 808.4,634.0 808.9,633.4 809.4,632.7 809.9,632.1 810.4,631.5 810.9,630.9 811.4,630.4 811.9,629.9 812.4,629.4 812.9,629.1 813.4,628.8 813.9,628.6 814.4,628.5 814.9,628.5 815.4,628.7 815.9,628.9 816.4,629.2 816.9,629.6 817.4,630.1 817.9,630.7 818.4,631.3 818.9,631.9 819.4,632.6 819.9,633.3 820.4,634.0 820.9,634.8 821.4,635.5 821.9,636.2 822.4,636.8 822.9,637.4 823.4,638.0 823.9,638.6 824.4,639.2 824.9,639.9 825.4,640.6 825.9,641.3 826.4,642.0 826.9,642.6 827.4,643.3 827.9,643.9 828.4,644.4 828.9,644.8 829.4,645.2 829.9,645.4 830.4,645.5 830.9,645.4 831.4,645.2 831.9,644.7 832.4,644.1 832.9,643.3 833.4,642.5 833.9,641.6 834.4,640.6 834.9,639.6 835.4,638.7 835.9,637.7 836.4,636.8 836.9,636.0 837.4,635.4 837.9,634.9 838.4,634.5 838.9,634.2 839.4,634.0 839.9,633.8 840.4,633.5 840.9,633.3 841.4,633.1 841.9,633.0 842.4,632.8 842.9,632.7 843.4,632.6 843.9,632.5 844.4,632.5 844.9,632.6 845.4,632.7 845.9,633.1 846.4,633.5 846.9,634.1 847.4,634.7 847.9,635.4 848.4,636.2 848.9,637.0 849.4,637.8 849.9,638.7 850.4,639.5 850.9,640.3 851.4,641.1 851.9,641.9 852.4,642.6 852.9,643.4 853.4,644.2 853.9,645.2 854.4,646.1 854.9,647.1 855.4,648.2 855.9,649.2 856.4,650.2 856.9,651.3 857.4,652.3 857.9,653.2 858.4,654.2 858.9,655.1 859.4,655.9 859.9,656.6 860.4,657.3 860.9,657.8 861.4,658.2 861.9,658.6 862.4,658.8 862.9,658.8 863.4,658.8 863.9,658.7 864.4,658.6 864.9,658.4 865.4,658.2 865.9,658.1 866.4,657.8 866.9,657.6 867.4,657.4 867.9,657.1 868.4,656.9 868.9,656.7 869.4,656.5 869.9,656.3 870.4,656.1 870.9,656.0 871.4,655.9 871.9,655.8 872.4,655.8 872.9,655.8 873.4,655.9 873.9,656.1 874.4,656.2 874.9,656.4 875.4,656.7 875.9,656.9 876.4,657.1 876.9,657.3 877.4,657.6 877.9,657.8 878.4,657.9 878.9,658.1 879.4,658.2 879.9,658.2 880.4,658.2 880.9,658.1 881.4,658.0 881.9,657.8 882.4,657.6 882.9,657.4 883.4,657.1 883.9,656.8 884.4,656.5 884.9,656.2 885.4,655.9 885.9,655.6 886.4,655.3 886.9,655.1 887.4,654.9 887.9,654.7 888.4,654.5 888.9,654.4 889.4,654.4 889.9,654.4 890.4,654.4 890.9,654.4 891.4,654.5 891.9,654.5 892.4,654.6 892.9,654.7 893.4,654.8 893.9,654.9 894.4,655.0 894.9,655.2 895.4,655.3 895.9,655.5 896.4,655.7 896.9,655.9 897.4,656.1 897.9,656.4 898.4,656.6 898.9,656.9 899.4,657.2 899.9,657.5 900.4,657.9 900.9,658.2"/>
<path d="M646.4,660.3 L646.9,660.3 647.4,660.3 647.9,660.3 648.4,660.2 648.9,660.2 649.4,660.2 649.9,660.2 650.4,660.2 650.9,660.2 651.4,660.1 651.9,660.1 652.4,660.1 652.9,660.1 653.4,660.1 653.9,660.0 654.4,660.0 654.9,660.0 655.4,660.0 655.9,659.9 656.4,659.9 656.9,659.9 657.4,659.9 657.9,659.8 658.4,659.8 658.9,659.8 659.4,659.8 659.9,659.7 660.4,659.7 660.9,659.7 661.4,659.7 661.9,659.6 662.4,659.6 662.9,659.6 663.4,659.5 663.9,659.5 664.4,659.5 664.9,659.4 665.4,659.4 665.9,659.4 666.4,659.3 666.9,659.3 667.4,659.3 667.9,659.2 668.4,659.2 668.9,659.2 669.4,659.1 669.9,659.1 670.4,659.0 670.9,659.0 671.4,659.0 671.9,658.9 672.4,658.9 672.9,658.8 673.4,658.8 673.9,658.7 674.4,658.7 674.9,658.6 675.4,658.6 675.9,658.5 676.4,658.5 676.9,658.4 677.4,658.4 677.9,658.3 678.4,658.3 678.9,658.2 679.4,658.2 679.9,658.1 680.4,658.1 680.9,658.0 681.4,658.0 681.9,657.9 682.4,657.9 682.9,657.8 683.4,657.8 683.9,657.7 684.4,657.7 684.9,657.6 685.4,657.6 685.9,657.5 686.4,657.5 686.9,657.4 687.4,657.3 687.9,657.3 688.4,657.2 688.9,657.2 689.4,657.1 689.9,657.0 690.4,656.9 690.9,656.9 691.4,656.8 691.9,656.7 692.4,656.6 692.9,656.5 693.4,656.4 693.9,656.3 694.4,656.2 694.9,656.0 695.4,655.9 695.9,655.6 696.4,655.3 696.9,655.0 697.4,654.6 697.9,654.1 698.4,653.7 698.9,653.2 699.4,652.6 699.9,652.1 700.4,651.6 700.9,651.1 701.4,650.6 701.9,650.1 702.4,649.6 702.9,649.1 703.4,648.5 703.9,647.9 704.4,647.3 704.9,646.6 705.4,646.0 705.9,645.4 706.4,644.8 706.9,644.2 707.4,643.8 707.9,643.3 708.4,643.0 708.9,642.8 709.4,642.6 709.9,642.6 710.4,642.7 710.9,642.8 711.4,643.0 711.9,643.2 712.4,643.5 712.9,643.8 713.4,644.1 713.9,644.4 714.4,644.7 714.9,644.9 715.4,645.1 715.9,645.3 716.4,645.4 716.9,645.5 717.4,645.4 717.9,645.2 718.4,644.7 718.9,644.1 719.4,643.4 719.9,642.5 720.4,641.4 720.9,640.3 721.4,639.1 721.9,637.8 722.4,636.5 722.9,635.1 723.4,633.7 723.9,632.2 724.4,630.8 724.9,629.4 725.4,628.0 725.9,626.7 726.4,625.4 726.9,624.3 727.4,623.2 727.9,622.2 728.4,621.4 728.9,620.6 729.4,619.8 729.9,619.0 730.4,618.2 730.9,617.4 731.4,616.6 731.9,615.8 732.4,615.1 732.9,614.3 733.4,613.6 733.9,612.9 734.4,612.2 734.9,611.6 735.4,611.0 735.9,610.5 736.4,610.1 736.9,609.7 737.4,609.4 737.9,609.1 738.4,609.0 738.9,608.9 739.4,608.9 739.9,609.1 740.4,609.5 740.9,609.9 741.4,610.5 741.9,611.1 742.4,611.9 742.9,612.8 743.4,613.7 743.9,614.7 744.4,615.8 744.9,616.9 745.4,618.0 745.9,619.2 746.4,620.4 746.9,621.6 747.4,622.9 747.9,624.2 748.4,625.8 748.9,627.7 749.4,629.8 749.9,632.0 750.4,634.2 750.9,636.4 751.4,638.6 751.9,640.6 752.4,642.5 752.9,644.4 753.4,646.5 753.9,648.6 754.4,650.7 754.9,652.5 755.4,654.0 755.9,655.0 756.4,655.5 756.9,655.4 757.4,655.1 757.9,654.7 758.4,654.1 758.9,653.5 759.4,652.8 759.9,652.1 760.4,651.5 760.9,651.1 761.4,650.7 761.9,650.3 762.4,650.0 762.9,649.6 763.4,649.2 763.9,648.9 764.4,648.6 764.9,648.4 765.4,648.2 765.9,648.1 766.4,648.0 766.9,648.0 767.4,648.0 767.9,648.1 768.4,648.1 768.9,648.2 769.4,648.2 769.9,648.3 770.4,648.4 770.9,648.5 771.4,648.6 771.9,648.7 772.4,648.8 772.9,648.9 773.4,649.0 773.9,649.2 774.4,649.3 774.9,649.4 775.4,649.5 775.9,649.6 776.4,649.8 776.9,649.9 777.4,650.0 777.9,650.1 778.4,650.2 778.9,650.3 779.4,650.3 779.9,650.4 780.4,650.5 780.9,650.6 781.4,650.6 781.9,650.7 782.4,650.8 782.9,650.8 783.4,650.9 783.9,651.0 784.4,651.1 784.9,651.1 785.4,651.2 785.9,651.3 786.4,651.4 786.9,651.5 787.4,651.7 787.9,651.8 788.4,652.0 788.9,652.2 789.4,652.5 789.9,652.7 790.4,653.0 790.9,653.2 791.4,653.5 791.9,653.7 792.4,654.0 792.9,654.2 793.4,654.5 793.9,654.7 794.4,654.9 794.9,655.1 795.4,655.2 795.9,655.4 796.4,655.5 796.9,655.6 797.4,655.6 797.9,655.6 798.4,655.5 798.9,655.4 799.4,655.2 799.9,654.9 800.4,654.6 800.9,654.3 801.4,653.9 801.9,653.5 802.4,653.1 802.9,652.7 803.4,652.2 803.9,651.8 804.4,651.4 804.9,650.9 805.4,650.5 805.9,650.1 806.4,649.7 806.9,649.2 807.4,648.7 807.9,648.1 808.4,647.5 808.9,646.9 809.4,646.3 809.9,645.6 810.4,645.0 810.9,644.4 811.4,643.8 811.9,643.3 812.4,642.8 812.9,642.4 813.4,642.0 813.9,641.7 814.4,641.5 814.9,641.3 815.4,641.3 815.9,641.4 816.4,641.5 816.9,641.7 817.4,642.0 817.9,642.3 818.4,642.7 818.9,643.1 819.4,643.6 819.9,644.1 820.4,644.6 820.9,645.0 821.4,645.5 821.9,646.0 822.4,646.5 822.9,647.1 823.4,647.8 823.9,648.6 824.4,649.5 824.9,650.3 825.4,651.2 825.9,652.1 826.4,653.0 826.9,653.9 827.4,654.6 827.9,655.3 828.4,655.9 828.9,656.4 829.4,656.8 829.9,657.0 830.4,657.0 830.9,656.9 831.4,656.7 831.9,656.3 832.4,655.9 832.9,655.5 833.4,655.0 833.9,654.5 834.4,653.9 834.9,653.4 835.4,652.9 835.9,652.4 836.4,651.9 836.9,651.6 837.4,651.2 837.9,650.9 838.4,650.6 838.9,650.2 839.4,649.9 839.9,649.6 840.4,649.2 840.9,648.9 841.4,648.6 841.9,648.4 842.4,648.1 842.9,647.9 843.4,647.7 843.9,647.6 844.4,647.5 844.9,647.4 845.4,647.4 845.9,647.5 846.4,647.5 846.9,647.7 847.4,647.9 847.9,648.1 848.4,648.3 848.9,648.6 849.4,648.9 849.9,649.2 850.4,649.5 850.9,649.9 851.4,650.2 851.9,650.6 852.4,650.9 852.9,651.2 853.4,651.6 853.9,651.9 854.4,652.4 854.9,652.9 855.4,653.4 855.9,653.9 856.4,654.5 856.9,655.1 857.4,655.7 857.9,656.3 858.4,656.9 858.9,657.5 859.4,658.0 859.9,658.5 860.4,658.9 860.9,659.3 861.4,659.6 861.9,659.8 862.4,660.0 862.9,660.0 863.4,660.0 863.9,659.9 864.4,659.7 864.9,659.6 865.4,659.4 865.9,659.1 866.4,658.9 866.9,658.6 867.4,658.3 867.9,658.1 868.4,657.8 868.9,657.5 869.4,657.3 869.9,657.1 870.4,656.9 870.9,656.7 871.4,656.6 871.9,656.5 872.4,656.5 872.9,656.5 873.4,656.6 873.9,656.7 874.4,656.9 874.9,657.0 875.4,657.2 875.9,657.4 876.4,657.6 876.9,657.8 877.4,658.0 877.9,658.1 878.4,658.3 878.9,658.4 879.4,658.5 879.9,658.5 880.4,658.5 880.9,658.4 881.4,658.3 881.9,658.1 882.4,657.9 882.9,657.7 883.4,657.5 883.9,657.2 884.4,656.9 884.9,656.7 885.4,656.4 885.9,656.1 886.4,655.9 886.9,655.6 887.4,655.4 887.9,655.3 888.4,655.1 888.9,655.0 889.4,655.0 889.9,655.0 890.4,655.0 890.9,655.1 891.4,655.1 891.9,655.2 892.4,655.2 892.9,655.3 893.4,655.4 893.9,655.5 894.4,655.7 894.9,655.8 895.4,656.0 895.9,656.2 896.4,656.4 896.9,656.6 897.4,656.8 897.9,657.1 898.4,657.3 898.9,657.6 899.4,657.9 899.9,658.2 900.4,658.6 900.9,658.9"/>
</g>
<rect x="751" y="421" width="223.2" height="32" fill="#fff" stroke="#777" stroke-width="1.3"/>
<text transform="translate(708.28,390.2) scale(0.9236,1.0)" font-size="22.8" font-weight="normal" fill="#111">Co-Co shell 1</text>
<text transform="translate(756.60,442.6) scale(1.0182,1.14)" font-size="21" font-weight="normal" fill="#111">0.2%Re-15%Co/Al</text>
<text transform="translate(935.70,449.7) scale(0.8500,1.0)" font-size="15" font-weight="normal" fill="#111">2</text>
<text transform="translate(943.03,442.6) scale(0.9733,1.16)" font-size="21" font-weight="normal" fill="#111">O</text>
<text transform="translate(960.10,449.7) scale(0.9500,1.0)" font-size="15" font-weight="normal" fill="#111">3</text>
<text transform="translate(802.00,495.8) scale(0.9249,1.0)" font-size="22.8" font-weight="normal" fill="#111">Aging</text>
<text transform="translate(770.57,541.9) scale(0.9288,1.0)" font-size="22.8" font-weight="normal" fill="#111">Co-Co shells</text>
<text transform="translate(647.15,549.0) scale(0.9471,1.0)" font-size="22" font-weight="normal" fill="#111">1800 h -</text>
<text transform="translate(650.14,571.6) scale(0.9648,1.0)" font-size="22" font-weight="normal" fill="#111">980 h -</text>
<text transform="translate(651.10,615.6) scale(0.9506,1.0)" font-size="22" font-weight="normal" fill="#111">355 h -</text>
<text transform="translate(780.20,612.8) scale(1.1000,1.0)" font-size="21.3" font-weight="normal" fill="#111">2</text>
<text transform="translate(810.00,570.5) scale(1.0000,1.0)" font-size="21.3" font-weight="normal" fill="#111">3</text>
<text transform="translate(838.00,584.7) scale(0.9833,1.0)" font-size="21.3" font-weight="normal" fill="#111">4</text>
<g fill="#111">
<text x="646.5" y="695.8" font-size="16.3" text-anchor="middle">0</text>
<text x="689.1" y="695.8" font-size="16.3" text-anchor="middle">1</text>
<text x="731.7" y="695.8" font-size="16.3" text-anchor="middle">2</text>
<text x="774.2" y="695.8" font-size="16.3" text-anchor="middle">3</text>
<text x="816.8" y="695.8" font-size="16.3" text-anchor="middle">4</text>
<text x="859.4" y="695.8" font-size="16.3" text-anchor="middle">5</text>
<text x="902.0" y="695.8" font-size="16.3" text-anchor="middle">6</text>
</g>
<text transform="translate(710.77,717.6) scale(0.9271,1.0)" font-size="20.5" font-weight="normal" fill="#111">R (Angstroms)</text>
<text transform="translate(638.3,575.64) rotate(-90) scale(0.9414,1)" font-size="20" font-weight="normal" fill="#111">FT Magnitude</text>
</svg></body></html>
